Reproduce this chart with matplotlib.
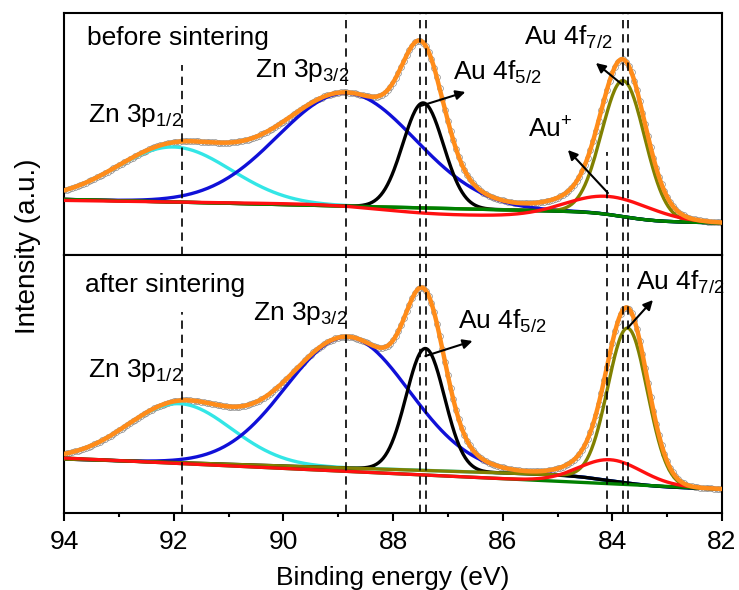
import math
import numpy as np
import matplotlib.pyplot as plt

plt.rcParams['font.family'] = ['Liberation Sans', 'DejaVu Sans']
plt.rcParams['mathtext.fontset'] = 'custom'
plt.rcParams['mathtext.rm'] = 'Liberation Sans'
plt.rcParams['mathtext.it'] = 'Liberation Sans:italic'

# fitted components: (centre eV, height a.u., sigma eV)
before_peaks = {
    'zn12': (92.0, 55, 1.05),
    'zn32': (88.85, 113, 1.25),
    'au52': (87.45, 105, 0.37),
    'au72': (83.80, 136, 0.39),
    'auplus': (84.10, 23, 0.75),
}
after_peaks = {
    'zn12': (91.9, 59, 0.95),
    'zn32': (88.83, 131, 1.12),
    'au52': (87.41, 122, 0.35),
    'au72': (83.72, 155, 0.36),
    'auplus': (84.05, 24, 0.57),
}
# backgrounds: (level at 82 eV, slope per eV, [(step centre, step size, step width)])
before_bg_main = (32, 1.3, [(83.8, 8, 0.45)])
before_bg_red = (32, 0.8, [(84.1, 4, 0.6), (88.2, 9, 0.8)])
after_bg_main = (24, 1.74, [(84.0, 9.1, 0.6)])
after_bg_low = (24, 2.58, [])

# reference binding energies (dashed lines)
ref_lines = [91.85, 88.85, 87.5, 87.4, 84.1, 83.81, 83.71]
before_line_tops = [190, 242, 242, 242, 103, 242, 242]
after_line_tops = [201, 258, 258, 258, 258, 258, 258]

colors = {'zn12': '#33e6e6', 'zn32': '#1010d8', 'au52': 'black',
          'au72': '#808000', 'auplus': '#ff1010'}

erf = np.vectorize(math.erf)


def gauss(x, p):
    c, h, s = p
    return h * np.exp(-(x - c) ** 2 / (2 * s ** 2))


def background(x, bg):
    base, slope, steps = bg
    y = base + slope * (x - 82)
    for c, a, w in steps:
        y = y + a * 0.5 * (1 + erf((x - c) / (np.sqrt(2) * w)))
    return y


x = np.arange(82, 94.0001, 0.02)
xd = np.arange(82, 94.0001, 0.05)

fig = plt.figure(figsize=(7.39, 5.9), dpi=100)
ax_top = fig.add_axes([64 / 739, 1 - 255 / 590, 658 / 739, 242 / 590])
ax_bot = fig.add_axes([64 / 739, 1 - 513 / 590, 658 / 739, 258 / 590])


def draw_panel(ax, peaks, bg_main, bg_red, bg_green, top, line_tops):
    env = lambda e: background(e, bg_main) + sum(gauss(e, p) for p in peaks.values())
    ax.plot(xd, env(xd), 'o', ms=4.2, mfc='none', mec='#8a8a8a', mew=0.5, zorder=2)
    bm = background(x, bg_main)
    br = background(x, bg_red)
    ax.plot(x, bm + gauss(x, peaks['zn12']), color=colors['zn12'], lw=2.4, zorder=3)
    ax.plot(x, bm + gauss(x, peaks['zn32']), color=colors['zn32'], lw=2.4, zorder=3)
    ax.plot(x, bm + gauss(x, peaks['au52']), color=colors['au52'], lw=2.4, zorder=3)
    ax.plot(x, bm + gauss(x, peaks['au72']), color=colors['au72'], lw=2.4, zorder=3)
    ax.plot(x, background(x, bg_green), color='#008000', lw=2.4, zorder=3)
    ax.plot(x, br + gauss(x, peaks['auplus']), color=colors['auplus'], lw=2.4, zorder=3)
    ax.plot(x, env(x), color='#ff8c1a', lw=3.2, zorder=4)
    ax.vlines(ref_lines, 0, line_tops, colors='black', lw=1.2,
              linestyles=(0, (5, 3.5)), zorder=5)
    ax.set_xlim(94, 82)
    ax.set_ylim(0, top)
    ax.set_yticks([])
    for s in ax.spines.values():
        s.set_linewidth(1.5)


draw_panel(ax_top, before_peaks, before_bg_main, before_bg_red, before_bg_main,
           242, before_line_tops)
draw_panel(ax_bot, after_peaks, after_bg_main, after_bg_low, after_bg_low,
           258, after_line_tops)

fs = 19
ax_top.tick_params(axis='x', which='both', bottom=False, labelbottom=False)
ax_bot.set_xticks(np.arange(82, 95, 2))
ax_bot.set_xticks(np.arange(83, 95, 2), minor=True)
ax_bot.tick_params(axis='x', which='major', direction='out', length=6, width=1.5,
                   labelsize=fs, pad=6)
ax_bot.tick_params(axis='x', which='minor', direction='out', length=3, width=1.5)
ax_bot.set_xlabel('Binding energy (eV)', fontsize=fs, labelpad=9)
fig.text(28 / 739, 1 - 246 / 590, 'Intensity (a.u.)', rotation=90, fontsize=20,
         ha='center', va='center')

kw = dict(fontsize=fs, va='baseline', ha='left', zorder=6)
ax_top.text(93.58, 255 - 45, 'before sintering', **kw)
ax_top.text(90.51, 255 - 77, r'Zn 3p$_{3/2}$', **kw)
ax_top.text(93.56, 255 - 122, r'Zn 3p$_{1/2}$', **kw)
ax_top.text(86.90, 255 - 80, r'Au 4f$_{5/2}$', **kw)
ax_top.text(85.62, 255 - 45, r'Au 4f$_{7/2}$', **kw)
ax_top.text(85.54, 255 - 137, r'Au$^{+}$', **kw)

ax_bot.text(93.62, 513 - 292, 'after sintering', **kw)
ax_bot.text(90.55, 513 - 320, r'Zn 3p$_{3/2}$', **kw)
ax_bot.text(93.56, 513 - 377, r'Zn 3p$_{1/2}$', **kw)
ax_bot.text(86.82, 513 - 329, r'Au 4f$_{5/2}$', **kw)
ax_bot.text(83.57, 513 - 290, r'Au 4f$_{7/2}$', **kw)

arrow = dict(arrowstyle='-|>', lw=1.5, color='black', mutation_scale=14,
             shrinkA=0, shrinkB=0)
ax_top.annotate('', xy=(86.68, 163), xytext=(87.50, 149), arrowprops=arrow, zorder=6)
ax_top.annotate('', xy=(84.30, 192), xytext=(83.81, 170), arrowprops=arrow, zorder=6)
ax_top.annotate('', xy=(84.81, 105), xytext=(84.08, 62), arrowprops=arrow, zorder=6)
ax_bot.annotate('', xy=(86.55, 172), xytext=(87.41, 157), arrowprops=arrow, zorder=6)
ax_bot.annotate('', xy=(83.26, 213), xytext=(83.72, 185), arrowprops=arrow, zorder=6)

fig.savefig('out.png', dpi=100)
